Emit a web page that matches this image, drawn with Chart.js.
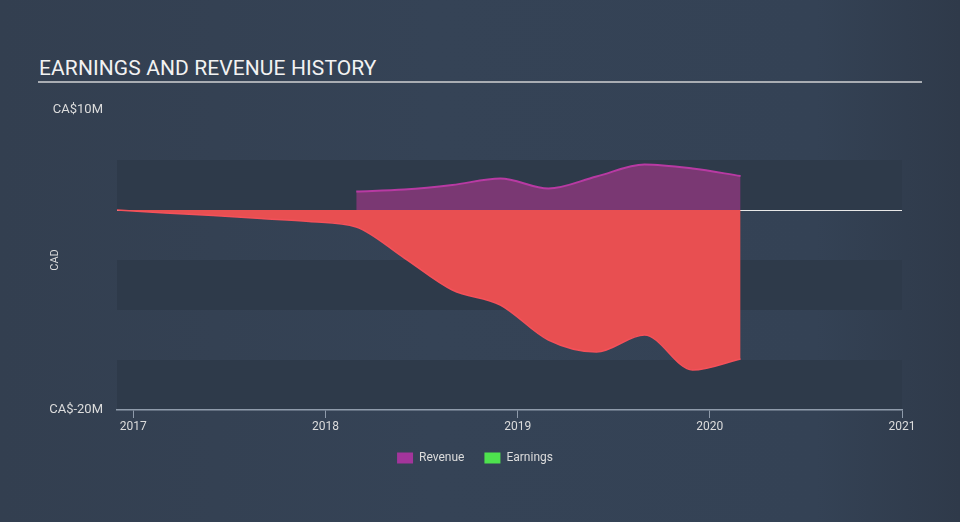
<!DOCTYPE html>
<html>
<head>
<meta charset="utf-8">
<script src="https://cdn.jsdelivr.net/npm/chart.js@4.4.1/dist/chart.umd.min.js"></script>
<style>
    html, body {
        margin: 0;
        padding: 0;
    }
    body {
        width: 960px;
        height: 522px;
        overflow: hidden;
        background: linear-gradient(90deg, #333f50 0%, #354356 45%, #344255 85%, #2f3a4a 100%);
        font-family: Roboto, sans-serif;
        position: relative;
    }
    #title {
        position: absolute;
        left: 39px;
        top: 56px;
        color: #f2f2f2;
        font-size: 21px;
        letter-spacing: 0.1px;
    }
    #rule {
        position: absolute;
        left: 38px;
        top: 81px;
        width: 884px;
        height: 2px;
        background: #a9adb3;
    }
    #chart {
        position: absolute;
        left: 0;
        top: 0;
    }
</style>
</head>
<body>
<div id="title">EARNINGS AND REVENUE HISTORY</div>
<div id="rule"></div>
<canvas id="chart" width="960" height="522"></canvas>
<script>
// years as decimals (quarter ends)
const earningsDates = [2016.915, 2017.165, 2017.415, 2017.665, 2017.915, 2018.16, 2018.41, 2018.66, 2018.91, 2019.16, 2019.41, 2019.66, 2019.91, 2020.16];
const earningsValues = [0, -0.3, -0.55, -0.85, -1.15, -1.7, -4.8, -8.0, -9.5, -13.0, -14.2, -12.5, -16.0, -14.9];

const revenueDates = [2018.16, 2018.41, 2018.66, 2018.91, 2019.16, 2019.41, 2019.66, 2019.91, 2020.16];
const revenueValues = [1.85, 2.05, 2.5, 3.15, 2.15, 3.35, 4.55, 4.15, 3.4];

const yearTicks = [2017, 2018, 2019, 2020, 2021];
const yTickLabels = { '10': 'CA$10M', '-20': 'CA$-20M' };
const bandRanges = [[5, 0], [-5, -10], [-15, -20]];

const X_MIN = 2016.915;
const X_MAX = 2021;

// тёмные полосы фона
const bandsPlugin = {
    id: 'bands',
    beforeDraw(chart) {
        const { ctx, chartArea, scales } = chart;
        ctx.save();
        ctx.fillStyle = '#2e3a4a';
        bandRanges.forEach(r => {
            const top = scales.y.getPixelForValue(r[0]);
            const bot = scales.y.getPixelForValue(r[1]);
            ctx.fillRect(chartArea.left, top, chartArea.right - chartArea.left, bot - top);
        });
        ctx.restore();
    }
};

const toPoints = (xs, ys) => xs.map((x, i) => ({ x: x, y: ys[i] }));

const ctx = document.getElementById('chart').getContext('2d');

new Chart(ctx, {
    type: 'line',
    data: {
        datasets: [
            {
                label: 'Revenue',
                data: toPoints(revenueDates, revenueValues),
                borderColor: '#b83aa3',
                backgroundColor: '#7a3873',
                borderWidth: 2,
                pointRadius: 0,
                fill: 'origin',
                cubicInterpolationMode: 'monotone'
            },
            {
                label: 'Earnings',
                data: toPoints(earningsDates, earningsValues),
                borderColor: '#f4515a',
                backgroundColor: '#e84f51',
                borderWidth: 1.5,
                pointRadius: 0,
                fill: 'origin',
                cubicInterpolationMode: 'monotone'
            }
        ]
    },
    options: {
        responsive: false,
        animation: false,
        layout: {
            padding: { left: 48, right: 58, top: 110, bottom: 48 }
        },
        plugins: {
            tooltip: { enabled: false },
            legend: {
                position: 'bottom',
                labels: {
                    color: '#dcdcdc',
                    boxWidth: 16,
                    boxHeight: 11,
                    padding: 20,
                    font: { family: 'Roboto', size: 12 },
                    generateLabels(chart) {
                        const colors = ['#a3359b', '#4ee24e'];
                        return chart.data.datasets.map((ds, i) => ({
                            text: ds.label,
                            fillStyle: colors[i],
                            strokeStyle: colors[i],
                            lineWidth: 0,
                            fontColor: '#dcdcdc',
                            datasetIndex: i
                        }));
                    }
                }
            }
        },
        scales: {
            x: {
                type: 'linear',
                min: X_MIN,
                max: X_MAX,
                afterBuildTicks(scale) {
                    scale.ticks = yearTicks.map(v => ({ value: v }));
                },
                afterFit(scale) {
                    scale.height = 22;
                },
                ticks: {
                    color: '#dcdcdc',
                    padding: 2,
                    maxRotation: 0,
                    font: { family: 'Roboto', size: 12 },
                    callback: v => String(v)
                },
                grid: {
                    drawOnChartArea: false,
                    tickLength: 8,
                    color: '#8f9bab',
                    lineWidth: 1
                },
                border: {
                    color: '#8f9bab',
                    width: 1.5
                }
            },
            y: {
                min: -20,
                max: 10,
                afterBuildTicks(scale) {
                    scale.ticks = [-20, -15, -10, -5, 0, 5, 10].map(v => ({ value: v }));
                },
                afterFit(scale) {
                    scale.width = 69;
                },
                title: {
                    display: true,
                    text: 'CAD',
                    color: '#dcdcdc',
                    font: { family: 'Roboto', size: 11 },
                    padding: { top: 1, bottom: 0 }
                },
                ticks: {
                    color: '#dcdcdc',
                    padding: 14,
                    font: { family: 'Roboto', size: 13 },
                    callback: v => yTickLabels[String(v)] || ''
                },
                grid: {
                    drawTicks: false,
                    color: c => c.tick && c.tick.value === 0 ? '#e8e8e8' : 'rgba(0,0,0,0)',
                    lineWidth: 1
                },
                border: { display: false }
            }
        }
    },
    plugins: [bandsPlugin]
});
</script>
</body>
</html>
